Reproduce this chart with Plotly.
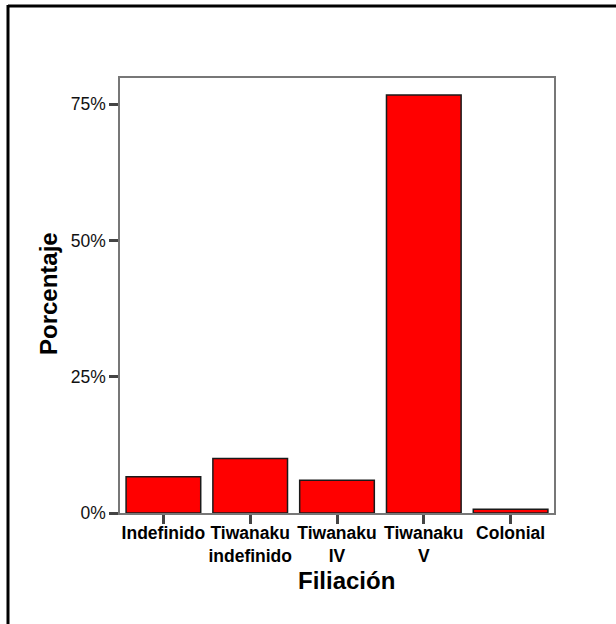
import plotly.graph_objects as go

categories = ["Indefinido", "Tiwanaku<br>indefinido", "Tiwanaku<br>IV", "Tiwanaku<br>V", "Colonial"]
percentages = [6.67, 10.0, 6.0, 76.67, 0.67]
y_ticks = [0, 25, 50, 75]
y_tick_labels = ["0%", "25%", "50%", "75%"]

W, H = 616, 624
L, R, T, B = 120, 62, 78, 111
pw, ph = W - L - R, H - T - B

fig = go.Figure()
fig.add_trace(go.Bar(
    x=list(range(len(categories))),
    y=percentages,
    width=0.86,
    marker=dict(color="#FF0000", line=dict(color="#1a1a1a", width=1.5)),
    showlegend=False,
))

font_family = "Liberation Sans, Arial, sans-serif"

fig.update_layout(
    width=W, height=H,
    margin=dict(l=L, r=R, t=T, b=B, pad=0),
    paper_bgcolor="white", plot_bgcolor="white",
    font=dict(family=font_family, color="black"),
    xaxis=dict(
        range=[-0.5, len(categories) - 0.5],
        tickmode="array",
        tickvals=list(range(len(categories))),
        ticktext=["<b>" + c + "</b>" for c in categories],
        tickfont=dict(size=17.5, family=font_family, color="black"),
        ticks="outside", ticklen=9, tickwidth=3, tickcolor="#444444",
        ticklabelstandoff=-6,
        showline=True, linecolor="#777777", linewidth=1.5, mirror=True,
        showgrid=False, zeroline=False, fixedrange=True,
    ),
    yaxis=dict(
        range=[0, 79.8],
        tickmode="array",
        tickvals=y_ticks,
        ticktext=y_tick_labels,
        tickfont=dict(size=17.5, family=font_family, color="#111111"),
        ticks="outside", ticklen=9, tickwidth=3, tickcolor="#444444",
        showline=True, linecolor="#777777", linewidth=1.5, mirror=True,
        showgrid=False, zeroline=False, fixedrange=True,
    ),
)

def px_to_paper_x(px):
    return (px - L) / pw

def px_to_paper_y(py):
    return (H - B - py) / ph

# axis titles
fig.add_annotation(
    text="<b>Filiación</b>", xref="paper", yref="paper",
    x=px_to_paper_x(346), y=px_to_paper_y(580),
    showarrow=False, font=dict(size=24, family=font_family, color="black"),
    xanchor="center", yanchor="middle",
)
fig.add_annotation(
    text="<b>Porcentaje</b>", xref="paper", yref="paper",
    x=px_to_paper_x(48), y=px_to_paper_y(294), textangle=-90,
    showarrow=False, font=dict(size=24, family=font_family, color="black"),
    xanchor="center", yanchor="middle",
)

# outer frame (top and left edges visible)
fig.add_shape(type="line", xref="paper", yref="paper",
              x0=px_to_paper_x(8), x1=px_to_paper_x(620),
              y0=px_to_paper_y(6), y1=px_to_paper_y(6),
              line=dict(color="black", width=3))
fig.add_shape(type="line", xref="paper", yref="paper",
              x0=px_to_paper_x(8), x1=px_to_paper_x(8),
              y0=px_to_paper_y(5), y1=px_to_paper_y(630),
              line=dict(color="black", width=3))

fig.write_html(
    "out.html",
    config={"displayModeBar": False},
    post_script="document.body.style.margin='0';document.body.style.overflow='hidden';",
)
